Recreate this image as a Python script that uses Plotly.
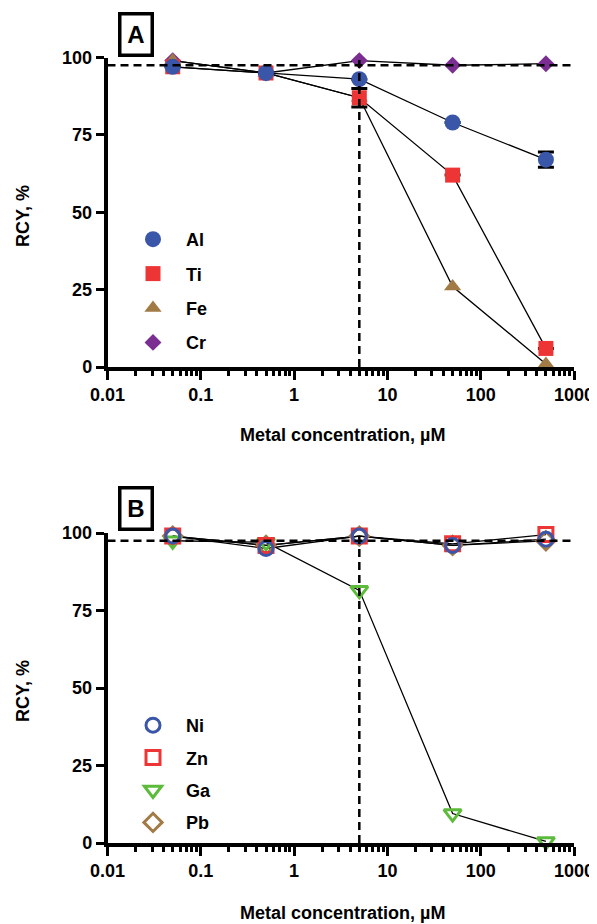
import plotly.graph_objects as go

# ---------------- data ----------------
conc = [0.05, 0.5, 5, 50, 500]

# Panel A
al = [97, 95, 93, 79, 67]
ti = [97, 95, 87, 62, 6]
fe = [99, 95, 87, 26, 1]
cr = [99, 95, 99, 97.5, 98]
al_err = [None, None, None, None, 2.5]
ti_err = [None, None, 3, None, None]

# Panel B
ni = [99, 95, 99, 96, 98]
zn = [99, 96, 99, 96.5, 99.5]
ga = [97.5, 97, 81.5, 9.5, 0.5]
pb = [99, 96, 99, 96, 97.5]

ref_y = 97.5      # dashed horizontal reference
ref_x = 5         # dashed vertical reference
x_span = [0.01, 1000]
y_span = [0, 100]

y_ticks = [0, 25, 50, 75, 100]

# ---------------- style ----------------
FONT = "Liberation Sans"
BLUE = "#3A56A8"
RED = "#EE3535"
BROWN = "#A27A45"
PURPLE = "#7A2E91"
GREEN = "#5DBB3C"

OFF = 8  # page body margin in the browser
W, H = 597 - OFF, 924 - OFF
XL, XR = 107.5, 574
A_TOP, A_BOT = 57.5, 367
B_TOP, B_BOT = 533, 843


def py(p):  # screen pixel y -> paper
    return 1 - (p - OFF) / H


def px(p):
    return (p - OFF) / W


fig = go.Figure()

# (name, values, marker, error, legend rank); drawn in this order (last on top)
series_a = [
    ("Cr", cr, dict(symbol="diamond", size=13, color=PURPLE), None, 4),
    ("Fe", fe, dict(symbol="triangle-up", size=15, color=BROWN), None, 3),
    ("Ti", ti, dict(symbol="square", size=15, color=RED), ti_err, 2),
    ("Al", al, dict(symbol="circle", size=16, color=BLUE), al_err, 1),
]
series_b = [
    ("Pb", pb, dict(symbol="diamond-open", size=14, color=BROWN, line=dict(width=3, color=BROWN)), None, 4),
    ("Ga", ga, dict(symbol="triangle-down-open", size=15, color=GREEN, line=dict(width=3, color=GREEN)), None, 3),
    ("Zn", zn, dict(symbol="square-open", size=14, color=RED, line=dict(width=3, color=RED)), None, 2),
    ("Ni", ni, dict(symbol="circle-open", size=14, color=BLUE, line=dict(width=3, color=BLUE)), None, 1),
]

for (xa, ya, leg, series) in [("x", "y", "legend", series_a), ("x2", "y2", "legend2", series_b)]:
    # connecting lines
    for name, vals, mk, err, rank in series:
        fig.add_trace(go.Scatter(x=conc, y=vals, mode="lines", xaxis=xa, yaxis=ya,
                                 line=dict(color="black", width=1.3), showlegend=False,
                                 hoverinfo="skip", cliponaxis=False))
    # markers
    for name, vals, mk, err, rank in series:
        kw = {}
        if err is not None:
            kw["error_y"] = dict(type="data", array=err, color="black", thickness=3, width=8, visible=True)
        fig.add_trace(go.Scatter(x=conc, y=vals, mode="markers", name=name, xaxis=xa, yaxis=ya,
                                 marker=mk, legend=leg, legendgroup=name, legendrank=rank,
                                 cliponaxis=False, **kw))
    # dashed reference lines
    fig.add_trace(go.Scatter(x=x_span, y=[ref_y, ref_y], mode="lines", xaxis=xa, yaxis=ya,
                             line=dict(color="black", width=2.5, dash="8px,5px"), showlegend=False,
                             hoverinfo="skip", cliponaxis=False))
    fig.add_trace(go.Scatter(x=[ref_x, ref_x], y=y_span, mode="lines", xaxis=xa, yaxis=ya,
                             line=dict(color="black", width=2.5, dash="8px,5px"), showlegend=False,
                             hoverinfo="skip", cliponaxis=False))

xaxis_common = dict(
    type="log", range=[-2, 3], dtick=1, tick0=0, exponentformat="none", automargin=False,
    showline=True, linecolor="black", linewidth=3.5, mirror=False,
    ticks="outside", ticklen=9, tickwidth=3, tickcolor="black",
    minor=dict(ticks="outside", ticklen=5, tickwidth=2.5, tickcolor="black"),
    showgrid=False, zeroline=False,
    tickfont=dict(family=FONT, size=18, color="black", weight="bold"),
    domain=[px(XL), px(XR)],
)
yaxis_common = dict(
    range=[0, 100], autorange=False, tickvals=y_ticks, automargin=False,
    showline=True, linecolor="black", linewidth=3.5,
    ticks="outside", ticklen=8, tickwidth=3, tickcolor="black",
    showgrid=False, zeroline=False,
    tickfont=dict(family=FONT, size=18, color="black", weight="bold"),
)

legend_common = dict(
    font=dict(family=FONT, size=18, color="black", weight="bold"),
    bgcolor="rgba(0,0,0,0)", itemwidth=56, traceorder="grouped",
    xanchor="left", yanchor="top",
)

fig.update_layout(
    template="none",
    width=W, height=H, margin=dict(l=0, r=0, t=0, b=0, autoexpand=False),
    paper_bgcolor="white", plot_bgcolor="white",
    font=dict(family=FONT, color="black"),
    xaxis=dict(**xaxis_common, anchor="y"),
    yaxis=dict(**yaxis_common, domain=[py(A_BOT), py(A_TOP)], anchor="x"),
    xaxis2=dict(**xaxis_common, anchor="y2"),
    yaxis2=dict(**yaxis_common, domain=[py(B_BOT), py(B_TOP)], anchor="x2"),
    legend=dict(**legend_common, tracegroupgap=8, x=px(120), y=py(221)),
    legend2=dict(**legend_common, tracegroupgap=6, x=px(120), y=py(707)),
    showlegend=True,
)

annots = []
for label, cy in [("A", 34), ("B", 508)]:
    annots.append(dict(text="<b>%s</b>" % label, x=px(136), y=py(cy), xref="paper", yref="paper",
                       showarrow=False, font=dict(family=FONT, size=24, color="black"),
                       width=29, height=38, bordercolor="black", borderwidth=3.5, borderpad=0,
                       xanchor="center", yanchor="middle"))
for cy in [216, 691]:
    annots.append(dict(text="<b>RCY, %</b>", x=px(23), y=py(cy), xref="paper", yref="paper",
                       showarrow=False, textangle=-90, font=dict(family=FONT, size=18, color="black"),
                       xanchor="center", yanchor="middle"))
for cy in [435, 913]:
    annots.append(dict(text="<b>Metal concentration, µM</b>", x=px(342), y=py(cy), xref="paper",
                       yref="paper", showarrow=False, font=dict(family=FONT, size=18, color="black"),
                       xanchor="center", yanchor="middle"))
fig.update_layout(annotations=annots)

fig.write_html("out.html")
